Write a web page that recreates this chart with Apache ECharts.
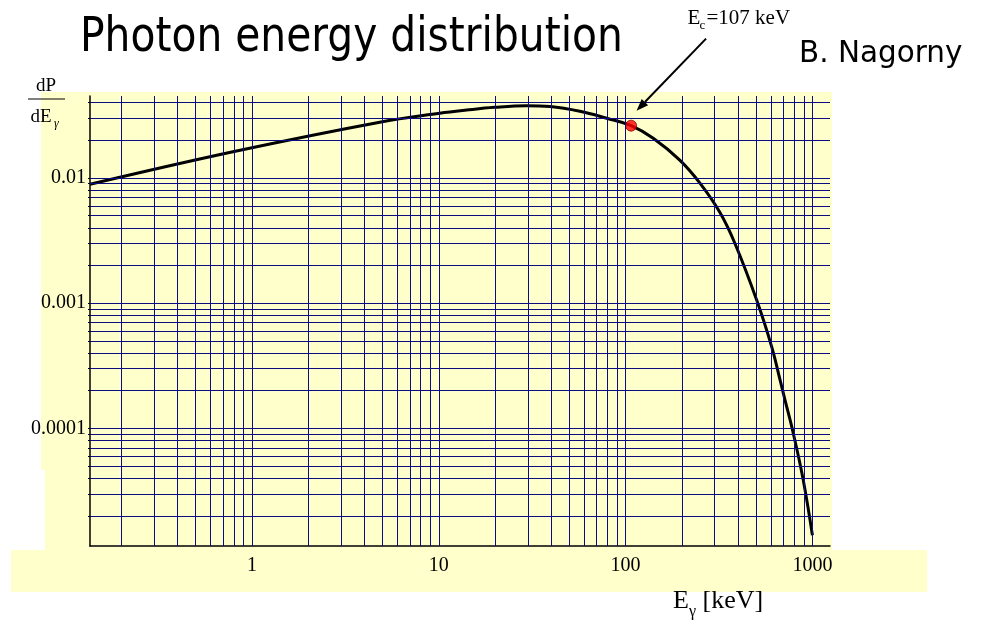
<!DOCTYPE html>
<html>
<head>
<meta charset="utf-8">
<script src="https://cdn.jsdelivr.net/npm/echarts@6/dist/echarts.min.js"></script>
<style>
  html, body { margin: 0; padding: 0; background: #ffffff; }
  #chart { width: 995px; height: 621px; }
</style>
</head>
<body>
<div id="chart"></div>
<script>
// Photon energy E (keV) and spectral density dP/dE along the spectrum
const energy = [0.136, 0.791, 4.83, 10.1, 14.1, 19.9, 29.5, 39.3, 56.9, 79.2, 107, 140.6, 195, 250, 320, 385, 503, 605, 671, 713, 790, 893, 1000];
const density = [0.00891, 0.0162, 0.0279, 0.0329, 0.0349, 0.0367, 0.0378, 0.0372, 0.0341, 0.0300, 0.0262, 0.0208, 0.0139, 0.0091, 0.0053, 0.0030, 0.00106, 0.00045, 0.000244, 0.000169, 0.0000914, 0.0000387, 0.0000140];

// Critical energy marker
const criticalEnergy = [107];
const criticalDensity = [0.0262];

// Axis labels
const xTickLabels = [1, 10, 100, 1000];
const yTickLabels = [0.0001, 0.001, 0.01];

// Log-paper grid lines
const xGridLines = [0.2, 0.3, 0.4, 0.5, 0.6, 0.7, 0.8, 0.9,
  1, 2, 3, 4, 5, 6, 7, 8, 9,
  10, 20, 30, 40, 50, 60, 70, 80, 90,
  100, 200, 300, 400, 500, 600, 700, 800, 900, 1000];
const yGridLines = [0.00002, 0.00003, 0.00004, 0.00005, 0.00006, 0.00007, 0.00008, 0.00009,
  0.0001, 0.0002, 0.0003, 0.0004, 0.0005, 0.0006, 0.0007, 0.0008, 0.0009,
  0.001, 0.002, 0.003, 0.004, 0.005, 0.006, 0.007, 0.008, 0.009,
  0.01, 0.02, 0.03, 0.04];

const SERIF = '"Liberation Serif", "Times New Roman", serif';
const SANS = '"DejaVu Sans", Verdana, sans-serif';
const PAPER = '#FFFFCC';

const chart = echarts.init(document.getElementById('chart'), null, { renderer: 'canvas' });

const graphics = [
  // paper background
  { type: 'rect', z: -10, silent: true, shape: { x: 41, y: 92, width: 791, height: 378 }, style: { fill: PAPER } },
  { type: 'rect', z: -10, silent: true, shape: { x: 45, y: 469, width: 787, height: 82 }, style: { fill: PAPER } },
  { type: 'rect', z: -10, silent: true, shape: { x: 11, y: 550, width: 916, height: 42 }, style: { fill: PAPER } },

  // headings
  { type: 'text', x: 80, y: 39, scaleX: 0.85, silent: true,
    style: { text: 'Photon energy distribution', font: '48px ' + SANS, fill: '#000', verticalAlign: 'middle' } },
  { type: 'text', x: 799, y: 54, scaleX: 0.95, silent: true,
    style: { text: 'B. Nagorny', font: '31px ' + SANS, fill: '#000', verticalAlign: 'middle' } },

  // critical energy annotation
  { type: 'text', x: 687.5, y: 18, silent: true,
    style: { text: 'E', font: '21px ' + SERIF, fill: '#000', verticalAlign: 'middle' } },
  { type: 'text', x: 699.5, y: 26, silent: true,
    style: { text: 'c', font: '13px ' + SERIF, fill: '#000', verticalAlign: 'middle' } },
  { type: 'text', x: 706.5, y: 18, silent: true,
    style: { text: '=107 keV', font: '21px ' + SERIF, fill: '#000', verticalAlign: 'middle' } },

  // y axis title dP / dE_gamma
  { type: 'text', x: 36, y: 86, silent: true,
    style: { text: 'dP', font: '19px ' + SERIF, fill: '#000', verticalAlign: 'middle' } },
  { type: 'line', silent: true, shape: { x1: 28, y1: 99, x2: 65, y2: 99 }, style: { stroke: '#000', lineWidth: 1 } },
  { type: 'text', x: 30.5, y: 117, silent: true,
    style: { text: 'dE', font: '19px ' + SERIF, fill: '#000', verticalAlign: 'middle' } },
  { type: 'text', x: 54, y: 124, silent: true,
    style: { text: 'γ', font: 'italic 12px ' + SERIF, fill: '#000', verticalAlign: 'middle' } },

  // x axis title E_gamma [keV]
  { type: 'text', x: 673, y: 601, silent: true,
    style: { text: 'E', font: '26px ' + SERIF, fill: '#000', verticalAlign: 'middle' } },
  { type: 'text', x: 689, y: 612, silent: true,
    style: { text: 'γ', font: '16px ' + SERIF, fill: '#000', verticalAlign: 'middle' } },
  { type: 'text', x: 696, y: 601, silent: true,
    style: { text: ' [keV]', font: '26px ' + SERIF, fill: '#000', verticalAlign: 'middle' } }
];

const option = {
  animation: false,
  backgroundColor: '#ffffff',
  grid: { left: 90, top: 96, width: 740, height: 450, containLabel: false },
  xAxis: {
    type: 'log',
    logBase: 10,
    min: 0.1359,
    max: 1242,
    axisLine: { show: true, onZero: false, lineStyle: { color: '#000', width: 1.5 } },
    axisTick: { show: true, inside: true, length: 3, customValues: xGridLines, lineStyle: { color: '#000' } },
    axisLabel: {
      show: true, customValues: xTickLabels, margin: 10,
      fontFamily: SERIF, fontSize: 20, color: '#000',
      formatter: v => String(v)
    },
    splitLine: { show: false },
    minorTick: { show: false },
    minorSplitLine: { show: false }
  },
  yAxis: {
    type: 'log',
    logBase: 10,
    min: 0.0000115,
    max: 0.0452,
    axisLine: { show: true, onZero: false, lineStyle: { color: '#000', width: 1.5 } },
    axisTick: { show: true, inside: false, length: 2, customValues: yGridLines, lineStyle: { color: '#000' } },
    axisLabel: {
      show: true, customValues: yTickLabels, margin: 4,
      fontFamily: SERIF, fontSize: 20, color: '#000',
      formatter: v => String(v)
    },
    splitLine: { show: false },
    minorTick: { show: false },
    minorSplitLine: { show: false }
  },
  series: [
    {
      // log-paper ruling
      type: 'line',
      data: [],
      silent: true,
      z: 1,
      markLine: {
        silent: true,
        animation: false,
        precision: 10,
        symbol: ['none', 'none'],
        label: { show: false },
        emphasis: { disabled: true },
        lineStyle: { color: '#0c0c82', width: 1, type: 'solid' },
        data: xGridLines.map(v => ({ xAxis: v })).concat(yGridLines.map(v => ({ yAxis: v })))
      }
    },
    {
      name: 'dP/dE',
      type: 'line',
      z: 3,
      smooth: 0.4,
      showSymbol: false,
      lineStyle: { color: '#000', width: 3 },
      data: energy.map((e, i) => [e, density[i]])
    },
    {
      name: 'Ec',
      type: 'scatter',
      z: 4,
      symbol: 'circle',
      symbolSize: 11,
      itemStyle: { color: '#ff0000', borderColor: '#8a0000', borderWidth: 1 },
      data: criticalEnergy.map((e, i) => [e, criticalDensity[i]])
    }
  ],
  graphic: graphics
};

chart.setOption(option);

// Arrow from the annotation down to the critical-energy point
const p = chart.convertToPixel({ xAxisIndex: 0, yAxisIndex: 0 }, [criticalEnergy[0], criticalDensity[0]]);
const tip = [p[0] + 5.5, p[1] - 15];
const tail = [p[0] + 75, p[1] - 87];
const dx = tip[0] - tail[0], dy = tip[1] - tail[1];
const len = Math.sqrt(dx * dx + dy * dy);
const ux = dx / len, uy = dy / len;
const headLen = 12, headHalf = 4.5;
const base = [tip[0] - ux * headLen, tip[1] - uy * headLen];
graphics.push(
  { type: 'line', silent: true, z: 10,
    shape: { x1: tail[0], y1: tail[1], x2: base[0], y2: base[1] },
    style: { stroke: '#000', lineWidth: 2 } },
  { type: 'polygon', silent: true, z: 10,
    shape: { points: [tip, [base[0] - uy * headHalf, base[1] + ux * headHalf], [base[0] + uy * headHalf, base[1] - ux * headHalf]] },
    style: { fill: '#000' } }
);
chart.setOption({ graphic: graphics });
</script>
</body>
</html>
